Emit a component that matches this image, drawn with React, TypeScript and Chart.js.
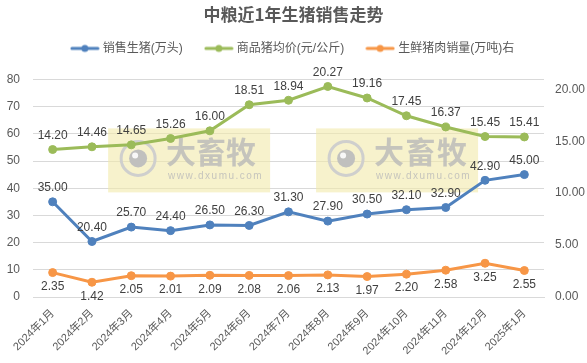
import React, { useEffect, useRef } from "react";
import { Chart, registerables } from "chart.js";

Chart.register(...registerables);

const categories = [
  "2024年1月", "2024年2月", "2024年3月", "2024年4月", "2024年5月", "2024年6月", "2024年7月",
  "2024年8月", "2024年9月", "2024年10月", "2024年11月", "2024年12月", "2025年1月",
];
const hogSales = [35.0, 20.4, 25.7, 24.4, 26.5, 26.3, 31.3, 27.9, 30.5, 32.1, 32.9, 42.9, 45.0];
const hogPrice = [14.2, 14.46, 14.65, 15.26, 16.0, 18.51, 18.94, 20.27, 19.16, 17.45, 16.37, 15.45, 15.41];
const porkSales = [2.35, 1.42, 2.05, 2.01, 2.09, 2.08, 2.06, 2.13, 1.97, 2.2, 2.58, 3.25, 2.55];
const leftTicks = [0, 10, 20, 30, 40, 50, 60, 70, 80];
const rightTicks = [0, 5, 10, 15, 20];

const FONT = '"Liberation Sans", "Noto Sans CJK SC", sans-serif';
const TXT = "#595959";

function legendIcon(color: string) {
  const c = document.createElement("canvas");
  c.width = 30;
  c.height = 10;
  const ctx = c.getContext("2d")!;
  ctx.strokeStyle = color;
  ctx.lineWidth = 3;
  ctx.lineCap = "round";
  ctx.beginPath();
  ctx.moveTo(2, 5);
  ctx.lineTo(28, 5);
  ctx.stroke();
  ctx.fillStyle = color;
  ctx.beginPath();
  ctx.arc(15, 5, 3.5, 0, Math.PI * 2);
  ctx.fill();
  return c;
}

const legendSpacing = {
  id: "legendSpacing",
  beforeInit(chart: any) {
    const orig = chart.legend.fit;
    chart.legend.fit = function () {
      orig.bind(chart.legend)();
      this.height += 15;
    };
  },
};

const watermarkPlugin = {
  id: "watermark",
  beforeDatasetsDraw(chart: any) {
    const { ctx, chartArea } = chart;
    const w = chartArea.right - chartArea.left;
    const boxes = [0.147, 0.554];
    ctx.save();
    boxes.forEach((fx) => {
      const x = chartArea.left + w * fx;
      const y = chartArea.top + 49;
      const bw = 162;
      const bh = 64;
      ctx.fillStyle = "rgba(242, 234, 170, 0.6)";
      ctx.fillRect(x, y, bw, bh);
      ctx.strokeStyle = "rgba(205,205,205,0.95)";
      ctx.lineWidth = 3;
      ctx.beginPath();
      ctx.arc(x + 30, y + 30, 17, 0, Math.PI * 2);
      ctx.stroke();
      ctx.fillStyle = "rgba(190,190,190,0.95)";
      ctx.beginPath();
      ctx.arc(x + 30, y + 30, 9, 0, Math.PI * 2);
      ctx.fill();
      ctx.fillStyle = "rgba(255,255,255,0.9)";
      ctx.beginPath();
      ctx.arc(x + 27, y + 27, 3, 0, Math.PI * 2);
      ctx.fill();
      ctx.font = 'bold 30px "Noto Sans CJK SC", sans-serif';
      ctx.fillStyle = "rgba(185,185,185,0.8)";
      ctx.textBaseline = "middle";
      ctx.textAlign = "left";
      ctx.fillText("大畜牧", x + 58, y + 23);
      ctx.font = '10px "Liberation Sans", sans-serif';
      (ctx as any).letterSpacing = "1.5px";
      ctx.fillText("www.dxumu.com", x + 60, y + 48);
    });
    ctx.restore();
  },
};

const labelPlugin = {
  id: "pointLabels",
  afterDatasetsDraw(chart: any) {
    const { ctx } = chart;
    ctx.save();
    ctx.font = `12px ${FONT}`;
    ctx.fillStyle = "#404040";
    ctx.textAlign = "center";
    chart.data.datasets.forEach((ds: any, i: number) => {
      const meta = chart.getDatasetMeta(i);
      const below = ds.labelPos === "below";
      meta.data.forEach((pt: any, j: number) => {
        const v = ds.data[j];
        ctx.textBaseline = below ? "top" : "bottom";
        ctx.fillText(v.toFixed(2), pt.x, below ? pt.y + 8 : pt.y - 8);
      });
    });
    ctx.restore();
  },
};

export default function App() {
  const ref = useRef<HTMLCanvasElement>(null);
  useEffect(() => {
    document.body.style.margin = "0";
    const chart = new Chart(ref.current!, {
      type: "line",
      data: {
        labels: categories,
        datasets: [
          {
            label: "销售生猪(万头)",
            data: hogSales,
            borderColor: "#4f81bd",
            backgroundColor: "#4f81bd",
            yAxisID: "y",
            labelPos: "above",
          } as any,
          {
            label: "商品猪均价(元/公斤)",
            data: hogPrice,
            borderColor: "#9bbb59",
            backgroundColor: "#9bbb59",
            yAxisID: "y1",
            labelPos: "above",
          } as any,
          {
            label: "生鲜猪肉销量(万吨)右",
            data: porkSales,
            borderColor: "#f79646",
            backgroundColor: "#f79646",
            yAxisID: "y1",
            labelPos: "below",
          } as any,
        ],
      },
      options: {
        animation: false,
        responsive: false,
        devicePixelRatio: 1,
        elements: {
          line: { borderWidth: 3, tension: 0 },
          point: { radius: 4, hoverRadius: 4 },
        },
        layout: { padding: 0 },
        plugins: {
          title: {
            display: true,
            text: "中粮近1年生猪销售走势",
            color: TXT,
            font: { family: '"Noto Sans CJK SC", sans-serif', size: 17, weight: "bold" },
            padding: { top: 4, bottom: -6 },
          },
          legend: {
            display: true,
            labels: {
              color: TXT,
              font: { family: FONT, size: 12 },
              usePointStyle: true,
              pointStyleWidth: 24,
              boxWidth: 24,
              boxHeight: 10,
              padding: 24,
              generateLabels: (c: any) =>
                c.data.datasets.map((ds: any, i: number) => ({
                  text: ds.label,
                  fillStyle: ds.borderColor,
                  strokeStyle: ds.borderColor,
                  fontColor: TXT,
                  pointStyle: legendIcon(ds.borderColor),
                  datasetIndex: i,
                  hidden: false,
                  lineWidth: 0,
                })),
            },
          },
          tooltip: { enabled: false },
        },
        scales: {
          x: {
            offset: true,
            grid: { display: false },
            border: { display: true, color: "#d9d9d9" },
            afterFit: (s: any) => {
              s.height = 66;
            },
            ticks: {
              color: TXT,
              font: { family: FONT, size: 11 },
              maxRotation: 45,
              minRotation: 45,
              autoSkip: false,
              padding: 2,
            },
          },
          y: {
            position: "left",
            min: leftTicks[0],
            max: leftTicks[leftTicks.length - 1],
            grid: { color: "#d9d9d9", drawTicks: false },
            border: { display: false },
            afterFit: (s: any) => {
              s.width = 33;
            },
            afterBuildTicks: (s: any) => {
              s.ticks = leftTicks.map((v) => ({ value: v }));
            },
            ticks: {
              color: TXT,
              font: { family: FONT, size: 12 },
              padding: 13,
            },
          },
          y1: {
            position: "right",
            min: 0,
            max: 20.95,
            grid: { display: false, drawTicks: false },
            border: { display: false },
            afterFit: (s: any) => {
              s.width = 43;
            },
            afterBuildTicks: (s: any) => {
              s.ticks = rightTicks.map((v) => ({ value: v }));
            },
            ticks: {
              color: TXT,
              font: { family: FONT, size: 12 },
              padding: 11,
              callback: (v: any) => Number(v).toFixed(2),
            },
          },
        },
      } as any,
      plugins: [legendSpacing, watermarkPlugin, labelPlugin],
    });
    return () => chart.destroy();
  }, []);
  return (
    <div style={{ width: 587, height: 363 }}>
      <canvas ref={ref} width={587} height={363} style={{ width: 587, height: 363 }} />
    </div>
  );
}
